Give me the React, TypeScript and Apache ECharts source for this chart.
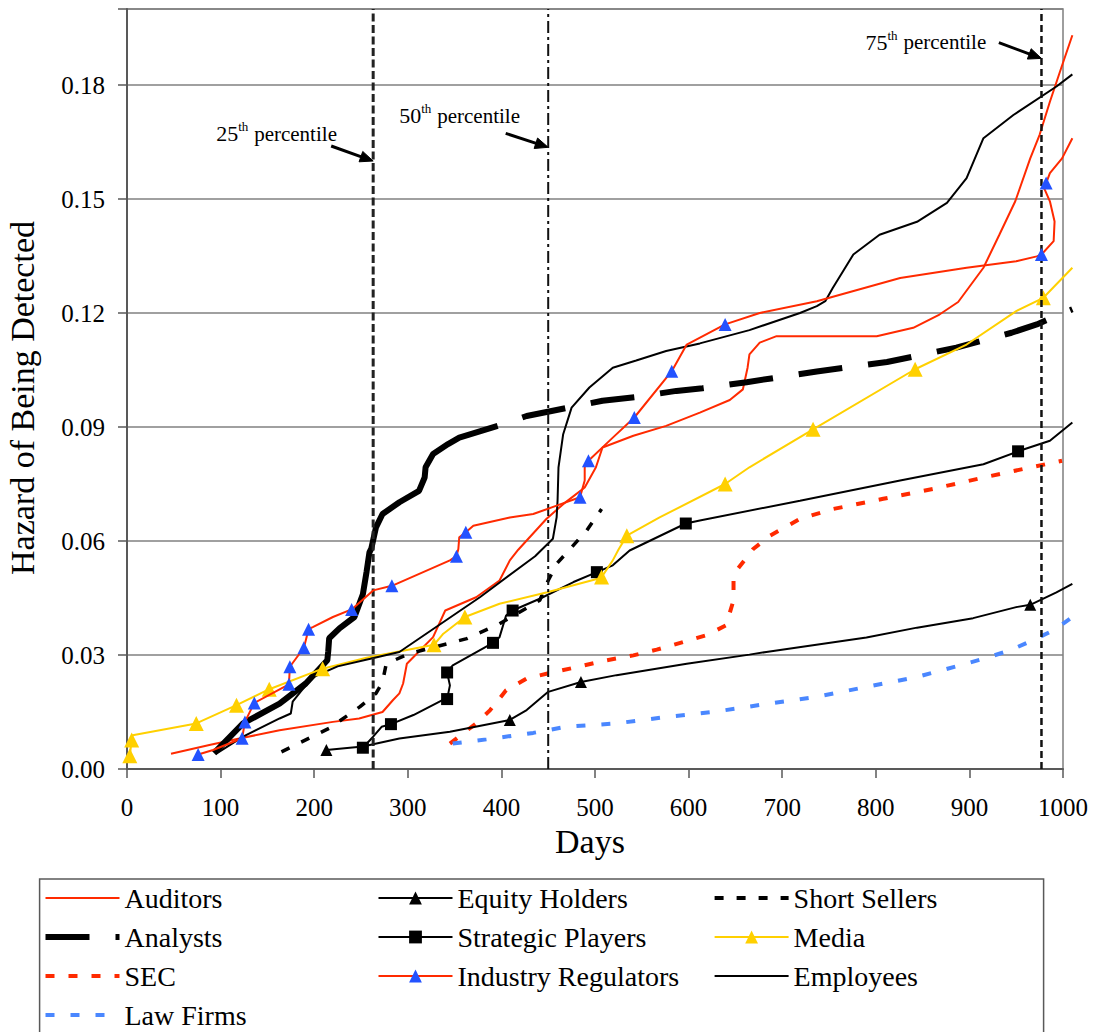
import React, { useEffect, useRef } from "react";
import * as echarts from "echarts";

const FONT = "'Liberation Serif', 'Times New Roman', serif";
const RED = "#FF2A00";
const BLUE_MARK = "#2352FF";
const LAW_BLUE = "#4A87FF";
const GOLD = "#FFD000";
const GRID_GRAY = "#808080";
const AXIS_GRAY = "#595959";

// axis ranges
const X_MAX = 1000;
const X_STEP = 100;
const X_DRAW_MAX = 1010; // curves run slightly past the last tick
const Y_MAX = 0.2;
const Y_STEP = 0.03;

// [day, hazard, marker?]
const auditors: number[][] = [
  [47, 0.004], [88, 0.0063], [120, 0.008], [163, 0.0102], [220, 0.0124], [248, 0.0133],
  [273, 0.015], [284, 0.0181], [291, 0.0199], [295, 0.0225], [299, 0.0277], [313, 0.0312],
  [327, 0.0347], [340, 0.0417], [373, 0.0452], [398, 0.0496], [409, 0.0549], [418, 0.0577],
  [448, 0.0658], [466, 0.0697], [489, 0.0741], [501, 0.0794], [508, 0.0846], [541, 0.0877],
  [576, 0.0903], [612, 0.0938], [644, 0.0971], [658, 0.0999], [663, 0.1056], [665, 0.1091],
  [676, 0.1122], [694, 0.1139], [801, 0.1139], [840, 0.1161], [868, 0.1196], [888, 0.1229],
  [915, 0.1319], [932, 0.1406], [949, 0.1494], [965, 0.1607], [975, 0.1669], [986, 0.1756],
  [998, 0.1844], [1010, 0.1931],
];

const analysts: number[][] = [
  [93, 0.0042], [124, 0.012], [163, 0.0172], [191, 0.0225], [214, 0.0286], [215, 0.031],
  [216, 0.0344], [227, 0.037], [243, 0.04], [252, 0.046], [256, 0.052], [259, 0.057],
  [261, 0.058], [266, 0.0636], [273, 0.0671], [291, 0.0702], [312, 0.0732], [318, 0.0767],
  [319, 0.0794], [327, 0.0829], [343, 0.0855], [355, 0.0872], [396, 0.0903], [427, 0.0929],
  [508, 0.0969], [544, 0.0979], [587, 0.0995], [615, 0.1002], [662, 0.1018], [737, 0.1046],
  [812, 0.1071], [886, 0.1109], [945, 0.1148], [972, 0.117], [1010, 0.121],
];
// the densely sampled early part of the Analysts curve reads as a solid stroke
const ANALYSTS_SOLID_UNTIL = 396;

const sec: number[][] = [
  [345, 0.0067], [373, 0.012], [388, 0.0155], [405, 0.0207], [427, 0.0238], [452, 0.0253],
  [484, 0.027], [512, 0.0286], [541, 0.0299], [566, 0.0314], [594, 0.0334], [619, 0.0352],
  [640, 0.0378], [648, 0.0444], [648, 0.0496], [651, 0.0522], [669, 0.0579], [687, 0.0614],
  [719, 0.0658], [754, 0.0684], [808, 0.0711], [861, 0.0737], [915, 0.0767], [968, 0.0795],
  [999, 0.0811],
];

const lawFirms: number[][] = [
  [348, 0.0067], [384, 0.0078], [434, 0.0095], [469, 0.0111], [523, 0.012], [576, 0.0137],
  [626, 0.015], [683, 0.0171], [737, 0.019], [790, 0.0216], [844, 0.0242], [890, 0.0273],
  [915, 0.029], [943, 0.0312], [968, 0.0339], [990, 0.0365], [1010, 0.04],
];

const equityHolders: number[][] = [
  [213, 0.005, 1], [252, 0.0059], [291, 0.008], [345, 0.0098], [409, 0.0129, 1], [427, 0.0155],
  [450, 0.0203], [485, 0.0229, 1], [523, 0.0247], [598, 0.0277], [665, 0.0301], [683, 0.0308],
  [790, 0.0346], [844, 0.0372], [904, 0.0397], [950, 0.0426], [965, 0.0432, 1], [993, 0.0465],
  [1010, 0.0487],
];

const strategicPlayers: number[][] = [
  [252, 0.0056, 1], [263, 0.0085], [272, 0.0111], [282, 0.0118, 1], [306, 0.0142], [337, 0.0181],
  [342, 0.0184, 1], [345, 0.022], [342, 0.0254, 1], [348, 0.0273], [391, 0.0332, 1], [398, 0.0347],
  [405, 0.0404], [412, 0.0417, 1], [441, 0.0448], [477, 0.0492], [502, 0.0518, 1], [519, 0.0536],
  [537, 0.0575], [597, 0.0646, 1], [612, 0.0654], [719, 0.0706], [826, 0.0759], [915, 0.0802],
  [952, 0.0836, 1], [986, 0.0864], [1010, 0.0912],
];

const industryRegulators: number[][] = [
  [76, 0.0038, 1], [92, 0.005], [123, 0.0081, 1], [126, 0.0124, 1], [136, 0.0174, 1], [173, 0.0223, 1],
  [174, 0.0269, 1], [189, 0.0319, 1], [194, 0.0368, 1], [199, 0.0374], [220, 0.04], [240, 0.042, 1],
  [263, 0.047], [283, 0.0482, 1], [345, 0.0549], [352, 0.056, 1], [354, 0.0579], [355, 0.061],
  [362, 0.0623, 1], [370, 0.064], [409, 0.0662], [434, 0.0671], [459, 0.0693], [484, 0.0715, 1],
  [489, 0.0759], [489, 0.0794], [493, 0.0811, 1], [519, 0.0872], [542, 0.0925, 1], [582, 0.1047, 1],
  [598, 0.1117], [639, 0.117, 1], [676, 0.12], [737, 0.1231], [826, 0.1292], [897, 0.1319],
  [950, 0.1336], [972, 0.1349], [977, 0.1354, 1], [990, 0.1389], [991, 0.1441], [986, 0.1494],
  [979, 0.1533], [982, 0.1542, 1], [986, 0.1568], [999, 0.1607], [1010, 0.166],
];

const shortSellers: number[][] = [
  [165, 0.0045], [216, 0.0107], [249, 0.0164], [266, 0.0199], [273, 0.0229], [277, 0.0277],
  [302, 0.0304], [363, 0.0343], [398, 0.0382], [441, 0.0444], [450, 0.0496], [459, 0.054],
  [491, 0.0627], [507, 0.0684],
];

const media: number[][] = [
  [3, 0.0035, 1], [5, 0.0076, 1], [6, 0.0089], [74, 0.012, 1], [117, 0.0168, 1], [152, 0.021, 1],
  [209, 0.0264, 1], [256, 0.0293], [328, 0.0327, 1], [338, 0.0356], [361, 0.04, 1], [398, 0.0435],
  [449, 0.0465], [502, 0.05], [507, 0.0505, 1], [519, 0.0549], [525, 0.0577], [534, 0.0614, 1],
  [569, 0.0662], [639, 0.075, 1], [665, 0.0794], [733, 0.0894, 1], [842, 0.1052, 1], [897, 0.1117],
  [950, 0.1205], [979, 0.124, 1], [1010, 0.1319],
];

const employees: number[][] = [
  [95, 0.004], [124, 0.0085], [163, 0.0133], [175, 0.0146], [177, 0.0177], [186, 0.0205],
  [199, 0.0242], [225, 0.027], [260, 0.029], [291, 0.0308], [377, 0.0452], [436, 0.056],
  [455, 0.0606], [459, 0.0662], [460, 0.0706], [461, 0.0794], [466, 0.0881], [475, 0.0951],
  [494, 0.1004], [519, 0.1056], [544, 0.1075], [576, 0.11], [612, 0.112], [665, 0.1155],
  [719, 0.12], [737, 0.1218], [746, 0.1231], [754, 0.1266], [765, 0.131], [776, 0.1354],
  [804, 0.1406], [844, 0.144], [876, 0.149], [897, 0.1555], [915, 0.166], [947, 0.1721],
  [993, 0.1796], [1010, 0.1828],
];

const percentileDays = [263, 450, 977];
const percentileLabels = ["25", "50", "75"];
const percentileArrowY = [0.16, 0.1636, 0.187];

const legendCol1 = ["Auditors", "Analysts", "SEC", "Law Firms"];
const legendCol2 = ["Equity Holders", "Strategic Players", "Industry Regulators"];
const legendCol3 = ["Short Sellers", "Media", "Employees"];

// layout
const GRID_LEFT = 127;
const GRID_RIGHT = 33;
const GRID_TOP = 9;
const GRID_BOTTOM = 263;
const CHART_W = 1096;
const CHART_H = 1032;

function toData(points: number[][]) {
  return points.map((p) =>
    p[2] ? { value: [p[0], p[1]] } : { value: [p[0], p[1]], symbol: "none" }
  );
}

function plainData(points: number[][]) {
  return points.map((p) => [p[0], p[1]]);
}

const seriesBase = {
  type: "line",
  smooth: false,
  clip: true,
  silent: true,
  emphasis: { disabled: true },
  xAxisIndex: 1,
  yAxisIndex: 1,
  z: 2,
};

function buildOption(): any {
  const solidPart = analysts.filter((p) => p[0] <= ANALYSTS_SOLID_UNTIL);
  const dashedPart = analysts.filter((p) => p[0] >= ANALYSTS_SOLID_UNTIL);

  const series: any[] = [
    { ...seriesBase, name: "Auditors", data: plainData(auditors), symbol: "none",
      lineStyle: { color: RED, width: 2 }, itemStyle: { color: RED } },
    { ...seriesBase, name: "Analysts", data: plainData(dashedPart), symbol: "none",
      lineStyle: { color: "#000", width: 6, type: [44, 26], dashOffset: 44 }, itemStyle: { color: "#000" } },
    { ...seriesBase, name: "AnalystsSolid", data: plainData(solidPart), symbol: "none",
      lineStyle: { color: "#000", width: 6 }, itemStyle: { color: "#000" } },
    { ...seriesBase, name: "SEC", data: plainData(sec), symbol: "none",
      lineStyle: { color: RED, width: 4, type: [9, 14] }, itemStyle: { color: RED } },
    { ...seriesBase, name: "Law Firms", data: plainData(lawFirms), symbol: "none",
      lineStyle: { color: LAW_BLUE, width: 4, type: [9, 16] }, itemStyle: { color: LAW_BLUE } },
    { ...seriesBase, name: "Equity Holders", data: toData(equityHolders), symbol: "triangle", symbolSize: 12,
      showSymbol: true, lineStyle: { color: "#000", width: 2 }, itemStyle: { color: "#000" } },
    { ...seriesBase, name: "Strategic Players", data: toData(strategicPlayers), symbol: "rect", symbolSize: 12,
      showSymbol: true, lineStyle: { color: "#000", width: 2 }, itemStyle: { color: "#000" } },
    { ...seriesBase, name: "Short Sellers", data: plainData(shortSellers), symbol: "none",
      lineStyle: { color: "#000", width: 3.5, type: [9, 13] }, itemStyle: { color: "#000" } },
    { ...seriesBase, name: "Media", data: toData(media), symbol: "triangle", symbolSize: 15,
      showSymbol: true, lineStyle: { color: GOLD, width: 2 }, itemStyle: { color: GOLD } },
    { ...seriesBase, name: "Employees", data: plainData(employees), symbol: "none",
      lineStyle: { color: "#000", width: 2 }, itemStyle: { color: "#000" } },
    { ...seriesBase, name: "Industry Regulators", data: toData(industryRegulators), symbol: "triangle",
      symbolSize: 13, showSymbol: true, z: 4,
      lineStyle: { color: RED, width: 2 }, itemStyle: { color: BLUE_MARK } },
  ];

  const pctStyles = [
    { color: "#222", width: 3, type: [8, 3.5] },
    { color: "#111", width: 2, type: [12, 4, 3, 4] },
    { color: "#111", width: 2.5, type: [7, 4] },
  ];
  percentileDays.forEach((d, i) => {
    series.push({
      ...seriesBase,
      xAxisIndex: 0,
      yAxisIndex: 0,
      name: "pct" + percentileLabels[i],
      data: [[d, 0], [d, Y_MAX]],
      symbol: "none",
      z: 3,
      lineStyle: pctStyles[i],
    });
  });

  const legendItem = (name: string) => {
    const widths: Record<string, number> = {
      Analysts: 6, SEC: 4, "Law Firms": 4, "Short Sellers": 4,
    };
    const noMarker = ["Auditors", "Analysts", "SEC", "Law Firms", "Short Sellers", "Employees"];
    return {
      name,
      lineStyle: { width: widths[name] || 2, dashOffset: 0 },
      itemStyle: noMarker.includes(name) ? { opacity: 0 } : {},
    };
  };

  const legendCommon = {
    orient: "vertical",
    top: 884,
    height: 220,
    padding: 0,
    itemWidth: 74,
    itemHeight: 16,
    itemGap: 11,
    selectedMode: false,
    textStyle: { fontFamily: FONT, fontSize: 28, color: "#000" },
  };

  // second (invisible) grid shares the scale of the first one but reaches X_DRAW_MAX
  const plotW = CHART_W - GRID_LEFT - GRID_RIGHT;
  const drawRight = CHART_W - GRID_LEFT - (plotW * X_DRAW_MAX) / X_MAX;

  return {
    animation: false,
    backgroundColor: "#fff",
    textStyle: { fontFamily: FONT },
    grid: [
      {
        left: GRID_LEFT, right: GRID_RIGHT, top: GRID_TOP, bottom: GRID_BOTTOM,
        show: true, borderColor: "#7f7f7f", borderWidth: 1.5, backgroundColor: "transparent",
        outerBoundsMode: "none",
      },
      {
        left: GRID_LEFT, right: drawRight, top: GRID_TOP, bottom: GRID_BOTTOM,
        show: false, outerBoundsMode: "none",
      },
    ],
    legend: [
      { ...legendCommon, left: 42.5, data: legendCol1.map(legendItem) },
      { ...legendCommon, left: 377.5, data: legendCol2.map(legendItem) },
      { ...legendCommon, left: 712.6, data: legendCol3.map(legendItem) },
    ],
    xAxis: [
      {
        type: "value", min: 0, max: X_MAX, interval: X_STEP, gridIndex: 0,
        name: "Days", nameLocation: "middle", nameGap: 54,
        nameTextStyle: { fontFamily: FONT, fontSize: 34, color: "#000", padding: [0, 10, 0, 0] },
        axisLine: { show: true, onZero: false, lineStyle: { color: AXIS_GRAY, width: 2 } },
        axisTick: { show: true, length: 9, lineStyle: { color: AXIS_GRAY, width: 1.5 } },
        axisLabel: { margin: 26, fontFamily: FONT, fontSize: 25, color: "#000", formatter: (v: number) => String(v) },
        splitLine: { show: false },
      },
      { type: "value", min: 0, max: X_DRAW_MAX, gridIndex: 1, show: false },
    ],
    yAxis: [
      {
        type: "value", min: 0, max: Y_MAX, interval: Y_STEP, gridIndex: 0,
        axisLine: { show: true, onZero: false, lineStyle: { color: AXIS_GRAY, width: 2 } },
        axisTick: { show: true, length: 9, lineStyle: { color: AXIS_GRAY, width: 1.5 } },
        axisLabel: {
          margin: 22, fontFamily: FONT, fontSize: 25, color: "#000",
          formatter: (v: number) => (v > Y_MAX - Y_STEP / 2 ? "" : v.toFixed(2)),
        },
        splitLine: { show: true, lineStyle: { color: GRID_GRAY, width: 1.5 } },
      },
      { type: "value", min: 0, max: Y_MAX, gridIndex: 1, show: false },
    ],
    series,
  };
}

// annotation layout offsets (pixels, relative to arrow tip)
const textOffsets = [[-157, -27.4], [-149, -31.4], [-176, -16.4]];
const arrowTails = [[-42, -15], [-42.5, -14], [-42.6, -15.7]];

function buildGraphics(chart: any): any[] {
  const els: any[] = [];
  els.push({
    type: "rect", silent: true,
    shape: { x: 39.6, y: 879, width: 1004, height: 170 },
    style: { fill: "none", stroke: AXIS_GRAY, lineWidth: 1.5 },
  });
  els.push({
    type: "text", silent: true, x: 22, y: 398, rotation: Math.PI / 2,
    style: {
      text: "Hazard of Being Detected", fontFamily: FONT, fontSize: 34, fill: "#000",
      align: "center", verticalAlign: "middle",
    },
  });
  percentileDays.forEach((d, i) => {
    const tip = chart.convertToPixel({ gridIndex: 0 }, [d, percentileArrowY[i]]);
    const tx = tip[0], ty = tip[1];
    const tail = [tx + arrowTails[i][0], ty + arrowTails[i][1]];
    const dx = tx - tail[0], dy = ty - tail[1];
    const len = Math.sqrt(dx * dx + dy * dy);
    const ux = dx / len, uy = dy / len;
    const hl = 13, hw = 5.5;
    const bx = tx - ux * hl, by = ty - uy * hl;
    const px = -uy, py = ux;
    els.push({
      type: "line", silent: true,
      shape: { x1: tail[0], y1: tail[1], x2: bx + ux * 2, y2: by + uy * 2 },
      style: { stroke: "#000", lineWidth: 3 },
    });
    els.push({
      type: "polygon", silent: true,
      shape: { points: [[tx, ty], [bx + px * hw, by + py * hw], [bx - px * hw, by - py * hw]] },
      style: { fill: "#000", stroke: "#000", lineWidth: 1 },
    });
    const x0 = tx + textOffsets[i][0];
    const yc = ty + textOffsets[i][1];
    els.push({
      type: "text", silent: true, x: x0, y: yc,
      style: { text: percentileLabels[i], fontFamily: FONT, fontSize: 22, fill: "#000", align: "left", verticalAlign: "middle" },
    });
    els.push({
      type: "text", silent: true, x: x0 + 22, y: yc - 7,
      style: { text: "th", fontFamily: FONT, fontSize: 13, fill: "#000", align: "left", verticalAlign: "middle" },
    });
    els.push({
      type: "text", silent: true, x: x0 + 38, y: yc,
      style: { text: "percentile", fontFamily: FONT, fontSize: 21, fill: "#000", align: "left", verticalAlign: "middle" },
    });
  });
  return els;
}

export default function App() {
  const ref = useRef<HTMLDivElement>(null);
  useEffect(() => {
    document.body.style.margin = "0";
    const chart = echarts.init(ref.current as HTMLDivElement, undefined, { renderer: "svg" });
    chart.setOption(buildOption());
    chart.setOption({ graphic: buildGraphics(chart) });
    return () => {
      chart.dispose();
    };
  }, []);
  return (
    <div
      ref={ref}
      style={{ position: "absolute", left: 0, top: 0, width: CHART_W, height: CHART_H, background: "#fff" }}
    />
  );
}
